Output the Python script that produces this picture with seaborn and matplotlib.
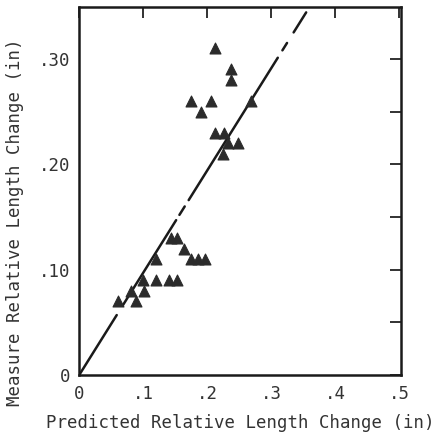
import numpy as np
import pandas as pd
import matplotlib
matplotlib.use('Agg')
import matplotlib.pyplot as plt
import seaborn as sns

predicted = [0.213, 0.237, 0.237, 0.175, 0.206, 0.190, 0.268, 0.213, 0.227,
             0.233, 0.248, 0.224,
             0.144, 0.153, 0.164, 0.175, 0.186, 0.197, 0.120,
             0.100, 0.120, 0.141, 0.153, 0.081, 0.102, 0.061, 0.089]
measured = [0.31, 0.29, 0.28, 0.26, 0.26, 0.25, 0.26, 0.23, 0.23,
            0.22, 0.22, 0.21,
            0.13, 0.13, 0.12, 0.11, 0.11, 0.11, 0.11,
            0.09, 0.09, 0.09, 0.09, 0.08, 0.08, 0.07, 0.07]

# reference line through origin, drawn in pieces (y ranges) like the original
line_slope = 0.97
line_pieces = [(0.0, 0.057), (0.066, 0.147), (0.152, 0.160), (0.166, 0.301),
               (0.308, 0.315), (0.325, 0.344)]

x_ticks = [0, 0.1, 0.2, 0.3, 0.4, 0.5]
x_ticklabels = ['0', '.1', '.2', '.3', '.4', '.5']
y_ticks = [0, 0.05, 0.10, 0.15, 0.20, 0.25, 0.30]
y_ticklabels = ['0', '', '.10', '', '.20', '', '.30']

sns.set_style('white')
plt.rcParams['font.family'] = ['DejaVu Sans Mono']

df = pd.DataFrame({'pred': predicted, 'meas': measured})

fig = plt.figure(figsize=(4.37, 4.44), dpi=100)
ax = fig.add_axes([0.181, 0.155, 0.737, 0.829])

for y0, y1 in line_pieces:
    seg = pd.DataFrame({'x': [y0 / line_slope, y1 / line_slope], 'y': [y0, y1]})
    sns.lineplot(data=seg, x='x', y='y', ax=ax, color='#1a1a1a', lw=1.8,
                 estimator=None, sort=False)

sns.scatterplot(data=df, x='pred', y='meas', ax=ax, marker='^', s=62,
                color='#2b2b2b', edgecolor='#2b2b2b', linewidth=0.8, zorder=3)

ax.set_xlim(0, 0.503)
ax.set_ylim(0, 0.349)
ax.set_xticks(x_ticks)
ax.set_xticklabels(x_ticklabels)
ax.set_yticks(y_ticks)
ax.set_yticklabels(y_ticklabels)
ax.tick_params(direction='in', length=8, width=1.3, top=True, right=True,
               labelsize=12.5, colors='#222222', pad=7)
ax.tick_params(axis='x', labelcolor='#333333')
ax.tick_params(axis='y', labelcolor='#333333', pad=6)
for sp in ax.spines.values():
    sp.set_linewidth(1.8)
    sp.set_color('#1a1a1a')

ax.set_xlabel('Predicted Relative Length Change (in)', fontsize=12.5,
              color='#333333', labelpad=8)
ax.set_ylabel('Measure Relative Length Change (in)', fontsize=12.5,
              color='#333333')
ax.yaxis.set_label_coords(-0.17, 0.415)

fig.savefig('out.png', dpi=100)
